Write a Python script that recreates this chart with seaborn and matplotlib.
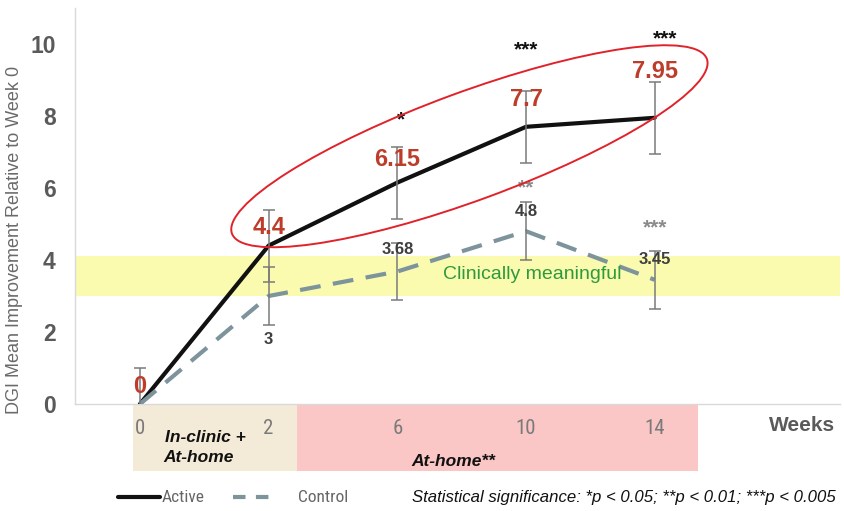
import numpy as np
import pandas as pd
import matplotlib
matplotlib.use("Agg")
import matplotlib.pyplot as plt
from matplotlib.patches import Ellipse, Rectangle
from matplotlib.transforms import IdentityTransform
from matplotlib.lines import Line2D
import seaborn as sns

# ---- data ----
weeks = ["0", "2", "6", "10", "14"]
active_mean = [0, 4.4, 6.15, 7.7, 7.95]
control_mean = [0, 3, 3.68, 4.8, 3.45]
active_err = [1.0, 1.0, 1.0, 1.0, 1.0]
control_err = [0.0, 0.8, 0.8, 0.8, 0.8]
active_labels = ["0", "4.4", "6.15", "7.7", "7.95"]
control_labels = ["", "3", "3.68", "4.8", "3.45"]
active_stars = ["", "", "*", "***", "***"]
control_stars = ["", "", "", "**", "***"]
meaningful_band = (3.0, 4.1)

sns.set_theme(style="white")
plt.rcParams["font.family"] = ["Liberation Sans", "DejaVu Sans"]

pos = np.arange(len(weeks))
df = pd.DataFrame({
    "pos": np.concatenate([pos, pos]),
    "value": active_mean + control_mean,
    "group": ["Active"] * len(weeks) + ["Control"] * len(weeks),
})

fig = plt.figure(figsize=(8.44, 5.11), dpi=100)
ax = fig.add_axes([75 / 844, 107 / 511, 765 / 844, 396 / 511])

# clinically meaningful band
ax.axhspan(*meaningful_band, color="#fbfbb0", zorder=0, lw=0)
ax.text(3.05, 3.6, "Clinically meaningful", color="#2f9a3c", fontsize=14,
        ha="center", va="center", zorder=5)

sns.lineplot(data=df, x="pos", y="value", hue="group", style="group",
             palette={"Active": "#111111", "Control": "#7d949c"},
             dashes={"Active": "", "Control": (5, 3)},
             linewidth=3, legend=False, ax=ax, zorder=3)

ax.errorbar(pos, active_mean, yerr=active_err, fmt="none", ecolor="#7a7a7a",
            elinewidth=1.1, capsize=4, capthick=1.1, zorder=4)
ax.errorbar(pos[1:], control_mean[1:], yerr=control_err[1:], fmt="none",
            ecolor="#7a7a7a", elinewidth=1.1, capsize=4, capthick=1.1, zorder=4)

ax.set_xlim(-0.505, 5.44)
ax.set_ylim(0, 11)
ax.set_yticks([0, 2, 4, 6, 8, 10])
ax.set_yticklabels(["0", "2", "4", "6", "8", "10"], fontsize=16.5,
                   fontweight="bold", color="#5a5a5a")
ax.tick_params(axis="y", length=0, pad=14)
ax.set_xticks([])
ax.set_xlabel("")
ax.set_ylabel("")
for side in ["top", "right"]:
    ax.spines[side].set_visible(False)
ax.spines["left"].set_color("#d9d9d9")
ax.spines["bottom"].set_color("#d9d9d9")
ax.spines["left"].set_linewidth(1)
ax.spines["bottom"].set_linewidth(1)

# value labels
act_off = [0.5, 0.5, 0.65, 0.75, 1.3]
for i, (v, t) in enumerate(zip(active_mean, active_labels)):
    ax.text(pos[i], v + act_off[i], t, color="#bd3d2a", fontsize=17,
            fontweight="bold", ha="center", va="center", zorder=6)
ctl_off = [0, -1.22, 0.61, 0.55, 0.55]
for i, (v, t) in enumerate(zip(control_mean, control_labels)):
    if t:
        ax.text(pos[i], v + ctl_off[i], t, color="#3f3f3f", fontsize=12,
                fontweight="bold", ha="center", va="center", zorder=6)

# significance markers
act_star_y = [0, 0, 7.9, 9.85, 10.15]
for i, s in enumerate(active_stars):
    if s:
        ax.text(pos[i] + (0.03 if i == 2 else 0.0) + (0.08 if i == 4 else 0.0),
                act_star_y[i], s, color="#111111", fontsize=15,
                fontweight="bold", ha="center", va="center")
ctl_star_y = [0, 0, 0, 6.0, 4.9]
for i, s in enumerate(control_stars):
    if s:
        ax.text(pos[i], ctl_star_y[i], s, color="#8a8a8a", fontsize=15,
                fontweight="bold", ha="center", va="center")

# highlight ellipse around the active arm
fig.canvas.draw()
cx, cy = ax.transData.transform((2.56, 7.16))
ax.add_patch(Ellipse((cx, cy), width=506, height=108, angle=20.2,
                     transform=IdentityTransform(), fill=False,
                     edgecolor="#e0232a", lw=1.4, zorder=7, clip_on=False))

# phase boxes under the axis
fig.add_artist(Rectangle((133 / 844, (511 - 471) / 511), 164 / 844, 73 / 511,
                         transform=fig.transFigure, color="#f4ead8", lw=0, zorder=0))
fig.add_artist(Rectangle((297 / 844, (511 - 471) / 511), 401 / 844, 73 / 511,
                         transform=fig.transFigure, color="#fac6c6", lw=0, zorder=0))

thin_font = ["Roboto Condensed", "Liberation Sans Narrow", "Roboto", "DejaVu Sans"]
for i, w in enumerate(weeks):
    xd = ax.transData.transform((pos[i], 0))[0]
    fig.text(xd / 844, 1 - 428 / 511, w, fontsize=15, color="#7a7a7a",
             ha="center", va="center", family=thin_font)

fig.text(205 / 844, 1 - 437 / 511, "In-clinic +", fontsize=12.5, fontweight="bold",
         style="italic", ha="center", va="center", color="#111111")
fig.text(199 / 844, 1 - 458 / 511, "At-home", fontsize=12.5, fontweight="bold",
         style="italic", ha="center", va="center", color="#111111")
fig.text(453 / 844, 1 - 461 / 511, "At-home**", fontsize=12.5, fontweight="bold",
         style="italic", ha="center", va="center", color="#111111")
fig.text(802 / 844, 1 - 425 / 511, "Weeks", fontsize=15, fontweight="bold",
         ha="center", va="center", color="#5a5a5a")

fig.text(15 / 844, 1 - 240 / 511, "DGI Mean Improvement Relative to Week 0",
         rotation=90, fontsize=13, color="#6a6a6a", ha="center", va="center")

# legend row
fig.add_artist(Line2D([118 / 844, 160 / 844], [1 - 497 / 511] * 2,
                      transform=fig.transFigure, color="#111111", lw=3))
fig.text(162 / 844, 1 - 498 / 511, "Active", fontsize=12.5, color="#666666",
         ha="left", va="center", family=thin_font)
fig.add_artist(Line2D([233 / 844, 272 / 844], [1 - 497 / 511] * 2,
                      transform=fig.transFigure, color="#7d949c", lw=3,
                      dashes=(3, 2.5)))
fig.text(298 / 844, 1 - 498 / 511, "Control", fontsize=12.5, color="#666666",
         ha="left", va="center", family=thin_font)
fig.text(412 / 844, 1 - 497 / 511,
         "Statistical significance: *p < 0.05; **p < 0.01; ***p < 0.005",
         fontsize=12.1, style="italic", color="#111111", ha="left", va="center")

fig.savefig("out.png", dpi=100)
